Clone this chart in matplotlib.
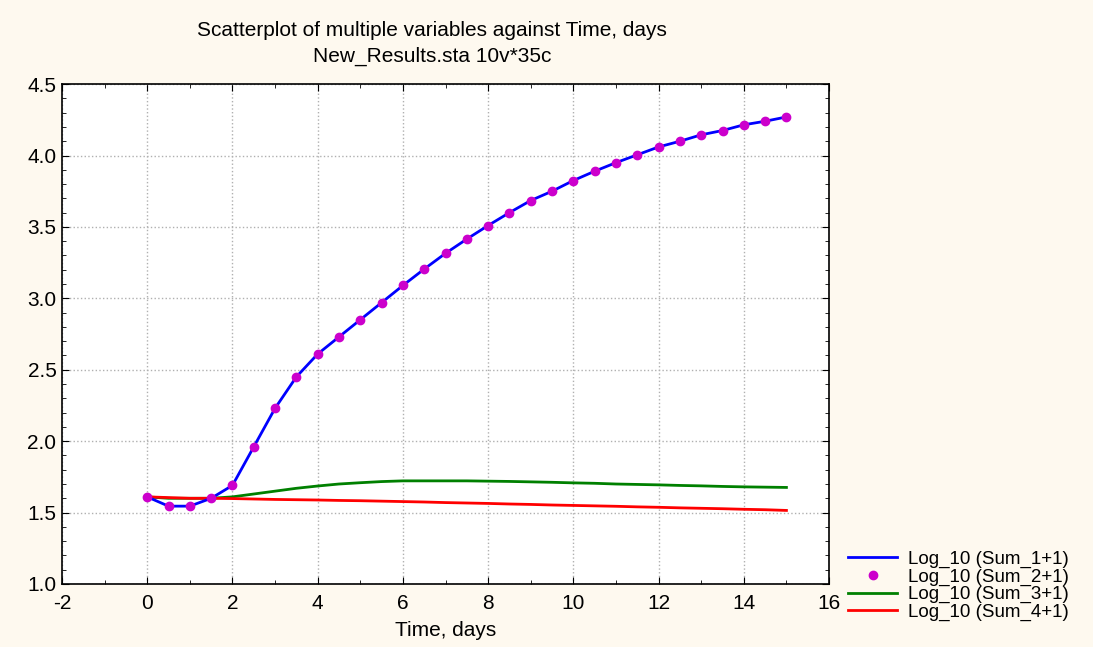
import numpy as np
import matplotlib
matplotlib.use("Agg")
import matplotlib.pyplot as plt
from matplotlib.ticker import MultipleLocator, FormatStrFormatter

plt.rcParams["font.family"] = ["Liberation Sans", "DejaVu Sans"]
plt.rcParams["axes.unicode_minus"] = False

# time axis, days
time_days = np.arange(0, 15.5, 0.5)

# Log_10 (Sum_1+1) and Log_10 (Sum_2+1) share the same values
sum_1 = [1.61, 1.545, 1.545, 1.60, 1.69, 1.96, 2.23, 2.45, 2.61, 2.73,
         2.85, 2.97, 3.09, 3.205, 3.315, 3.415, 3.51, 3.60, 3.685, 3.75,
         3.825, 3.89, 3.95, 4.005, 4.06, 4.10, 4.145, 4.175, 4.215, 4.24,
         4.27]
sum_2 = sum_1

sum_3 = [1.61, 1.60, 1.60, 1.60, 1.61, 1.63, 1.65, 1.67, 1.686, 1.70,
         1.709, 1.717, 1.722, 1.722, 1.722, 1.722, 1.72, 1.718, 1.715, 1.712,
         1.708, 1.705, 1.70, 1.697, 1.694, 1.69, 1.687, 1.683, 1.68, 1.678,
         1.676]

sum_4 = [1.61, 1.605, 1.60, 1.60, 1.598, 1.595, 1.592, 1.59, 1.588, 1.585,
         1.583, 1.58, 1.577, 1.574, 1.57, 1.567, 1.564, 1.56, 1.557, 1.553,
         1.55, 1.547, 1.544, 1.54, 1.537, 1.533, 1.53, 1.527, 1.523, 1.52,
         1.515]

labels = ["Log_10 (Sum_1+1)", "Log_10 (Sum_2+1)",
          "Log_10 (Sum_3+1)", "Log_10 (Sum_4+1)"]

bg = "#fef9ef"
fs = 15

fig = plt.figure(figsize=(10.93, 6.47), dpi=100, facecolor=bg)
ax = fig.add_axes([0.0567, 0.0974, 0.7018, 0.7726])
ax.set_facecolor("white")

ax.plot(time_days, sum_1, color="#0000ff", linewidth=2, label=labels[0], zorder=3)
ax.plot(time_days, sum_2, linestyle="none", marker="o", markersize=6,
        color="#cc00cc", label=labels[1], zorder=4)
ax.plot(time_days, sum_3, color="#008000", linewidth=2, label=labels[2], zorder=2)
ax.plot(time_days, sum_4, color="#ff0000", linewidth=2, label=labels[3], zorder=2)

ax.set_xlim(-2, 16)
ax.set_ylim(1.0, 4.5)
ax.xaxis.set_major_locator(MultipleLocator(2))
ax.xaxis.set_minor_locator(MultipleLocator(1))
ax.yaxis.set_major_locator(MultipleLocator(0.5))
ax.yaxis.set_minor_locator(MultipleLocator(0.1))
ax.yaxis.set_major_formatter(FormatStrFormatter("%.1f"))

ax.tick_params(which="both", direction="in", top=True, right=True,
               labelsize=fs, colors="black")
ax.tick_params(which="major", length=5)
ax.tick_params(which="minor", length=3)
ax.tick_params(axis="x", which="major", pad=7)
ax.tick_params(axis="y", which="major", pad=4)

ax.grid(True, which="major", linestyle=":", color="#b0b0b0", linewidth=1)
for sp in ax.spines.values():
    sp.set_color("black")
    sp.set_linewidth(1.2)

ax.set_xlabel("Time, days", fontsize=fs, labelpad=6)

fig.text(0.395, 0.953, "Scatterplot of multiple variables against Time, days",
         ha="center", va="center", fontsize=fs)
fig.text(0.395, 0.913, "New_Results.sta 10v*35c",
         ha="center", va="center", fontsize=fs)

fig.legend(loc="lower left", bbox_to_anchor=(0.776, 0.040), frameon=False,
           fontsize=13.5, handlelength=2.6, labelspacing=0.02,
           handletextpad=0.6, borderaxespad=0, borderpad=0)

fig.savefig("out.png", dpi=100, facecolor=bg)
